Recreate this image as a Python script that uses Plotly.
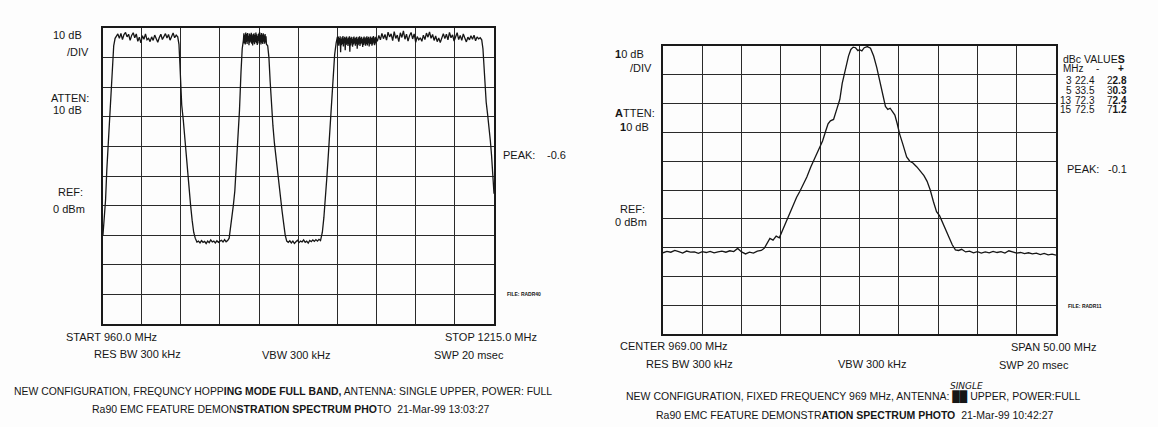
import plotly.graph_objects as go

W, H = 1158, 427

# ---------------- data ----------------
# Left panel: frequency hopping, full band (START 960.0 MHz, STOP 1215.0 MHz), level dBm
hop_freq_mhz = [
    960.3, 961.0, 962.0, 962.8, 963.8, 965.0, 966.2, 967.3, 968.2,
    969.0, 970.0, 971.0, 972.0, 973.0, 974.0, 975.0, 976.0, 977.0, 978.0, 979.0, 980.0,
    981.0, 982.0, 983.0, 984.0, 985.0, 986.0, 987.0, 988.0, 989.0, 990.0, 991.0, 992.0,
    993.0, 994.0, 995.0, 996.0, 997.0, 998.0, 999.0, 1000.0, 1001.0, 1002.0, 1003.0,
    1004.0, 1005.0, 1006.0, 1007.0, 1008.0, 1009.0,
    1009.8, 1010.4, 1011.0, 1011.6, 1012.6, 1013.6, 1014.8, 1016.0, 1017.4, 1018.4,
    1019.4, 1020.4, 1021.5,
    1022.5, 1023.5, 1024.5, 1025.5, 1026.5, 1027.5, 1028.5, 1029.5, 1030.5, 1031.5,
    1032.5, 1033.5, 1034.5, 1035.5, 1036.5, 1037.5, 1038.5, 1039.5, 1040.5, 1041.5, 1042.5,
    1043.3, 1044.2, 1045.2, 1046.2, 1047.2, 1048.2, 1049.2, 1050.2, 1051.0, 1051.8,
    1052.1, 1052.4, 1052.7, 1053.0, 1053.3, 1053.6, 1053.9, 1054.2, 1054.5, 1054.8,
    1055.1, 1055.4, 1055.7, 1056.0, 1056.3, 1056.6, 1056.9, 1057.2, 1057.5, 1057.8,
    1058.1, 1058.4, 1058.7, 1059.0, 1059.3, 1059.6, 1059.9, 1060.2, 1060.5, 1060.8,
    1061.1, 1061.4, 1061.7, 1062.0, 1062.3, 1062.6, 1062.9, 1063.2, 1063.5, 1063.8,
    1064.1, 1064.4, 1064.7, 1065.0, 1065.3, 1065.6, 1065.9, 1066.2, 1066.5, 1066.8,
    1067.6, 1068.4, 1069.2, 1070.0, 1071.0, 1072.0, 1073.2, 1074.5, 1075.8, 1077.0,
    1078.0, 1079.0, 1080.0,
    1081.0, 1082.0, 1083.0, 1084.0, 1085.0, 1086.0, 1087.0, 1088.0, 1089.0, 1090.0,
    1091.0, 1092.0, 1093.0, 1094.0, 1095.0, 1096.0, 1097.0, 1098.0, 1099.0, 1100.0,
    1101.0, 1102.0,
    1103.2, 1104.2, 1105.2, 1106.2, 1107.2, 1108.2, 1109.2, 1110.2, 1111.2, 1112.2,
    1113.0, 1113.3, 1113.6, 1113.9, 1114.2, 1114.5, 1114.8, 1115.1, 1115.4, 1115.7,
    1116.0, 1116.3, 1116.6, 1116.9, 1117.2, 1117.5, 1117.8, 1118.1, 1118.4, 1118.7,
    1119.0, 1119.3, 1119.6, 1119.9, 1120.2, 1120.5, 1120.8, 1121.1, 1121.4, 1121.7,
    1122.0, 1122.3, 1122.6, 1122.9, 1123.2, 1123.5, 1123.8, 1124.1, 1124.4, 1124.7,
    1125.0, 1125.3, 1125.6, 1125.9, 1126.2, 1126.5, 1126.8, 1127.1, 1127.4, 1127.7,
    1128.0, 1128.3, 1128.6, 1128.9, 1129.2, 1129.5, 1129.8, 1130.1, 1130.4, 1130.7,
    1131.0, 1131.3, 1131.6, 1131.9, 1132.2, 1132.5, 1132.8, 1133.1, 1133.4, 1133.7,
    1134.0, 1134.3, 1134.6, 1134.9, 1135.2, 1135.5, 1135.8, 1136.1, 1136.4, 1136.7,
    1137.0, 1137.3, 1137.6, 1137.9, 1138.2,
    1139, 1140, 1141, 1142, 1143, 1144, 1145, 1146, 1147, 1148, 1149, 1150, 1151, 1152,
    1153, 1154, 1155, 1156, 1157, 1158, 1159, 1160, 1161, 1162, 1163, 1164, 1165, 1166,
    1167, 1168, 1169, 1170, 1171, 1172, 1173, 1174, 1175, 1176, 1177, 1178, 1179, 1180,
    1181, 1182, 1183, 1184, 1185, 1186, 1187, 1188, 1189, 1190, 1191, 1192, 1193, 1194,
    1195, 1196, 1197, 1198, 1199, 1200, 1201, 1202, 1203, 1204, 1205, 1206, 1207,
    1207.8, 1208.5, 1209.2, 1209.9, 1210.8, 1211.7, 1212.6, 1213.4, 1214.2, 1215.0,
]
hop_level_dbm = [
    -70, -66, -58, -48, -38, -26, -14, -6, -3.5,
    -2.8, -2.0, -3.5, -1.8, -3.9, -2.2, -1.5, -3.0, -2.1, -4.2, -2.5, -1.6,
    -3.3, -2.0, -4.5, -3.1, -5.0, -2.6, -3.8, -2.0, -4.0, -3.5, -4.6, -3.0,
    -4.2, -2.4, -3.6, -4.8, -3.2, -2.1, -3.9, -2.6, -1.9, -3.4, -2.2,
    -4.1, -2.7, -1.7, -3.3, -2.4, -3.0,
    -5.5, -12, -22, -26, -31, -37, -46, -54, -60, -65,
    -69, -71, -72.3,
    -72.0, -72.6, -71.8, -72.4, -72.1, -72.8, -72.0, -72.5, -71.6, -72.3,
    -72.0, -72.6, -71.9, -72.4, -72.0, -71.7, -72.3, -71.5, -72.2, -71.8, -71.0,
    -68, -64, -60, -55, -46, -38, -28, -15, -7, -4,
    -1.8, -5.2, -2.3, -5.6, -1.5, -4.8, -2.0, -5.4, -1.7, -4.5,
    -2.6, -5.8, -1.9, -5.0, -2.2, -4.6, -1.6, -5.3, -2.5, -5.9,
    -2.0, -4.9, -1.8, -5.5, -2.4, -4.7, -1.5, -5.1, -2.1, -5.7,
    -2.7, -4.4, -1.9, -5.2, -1.4, -4.8, -2.3, -5.6, -1.7, -5.0,
    -2.2, -5.4, -1.8, -4.6, -2.5, -5.3, -2.0, -4.9, -2.8, -5.5,
    -6, -10, -18, -26, -33, -39, -45, -51, -57, -62,
    -66, -70, -72,
    -72.4, -71.9, -72.6, -72.0, -72.8, -72.2, -71.7, -72.5, -72.0, -72.3,
    -71.6, -72.4, -72.0, -72.7, -71.8, -72.2, -71.6, -72.1, -71.5, -72.0,
    -71.4, -71.8,
    -69, -64, -58, -50, -42, -34, -25, -16, -9, -5,
    -3.0, -5.6, -2.9, -6.0, -3.4, -5.2, -2.8, -8.2, -3.6, -5.8,
    -3.1, -5.4, -2.7, -6.2, -3.5, -5.0, -3.0, -7.5, -3.3, -5.7,
    -2.9, -5.3, -3.6, -6.1, -3.2, -5.5, -2.8, -8.0, -3.4, -5.9,
    -3.0, -5.1, -3.7, -6.3, -3.1, -5.6, -2.9, -5.2, -3.5, -6.0,
    -3.2, -5.4, -3.0, -7.0, -3.6, -5.8, -3.1, -5.3, -2.8, -6.1,
    -3.4, -5.5, -3.0, -5.0, -3.7, -6.4, -3.2, -5.7, -2.9, -5.2,
    -3.5, -6.0, -3.1, -5.4, -2.8, -5.9, -3.3, -5.1, -3.0, -6.2,
    -3.6, -5.5, -2.9, -5.3, -3.4, -6.0, -3.1, -5.6, -2.7, -5.0,
    -3.5, -5.8, -3.0, -5.2, -3.3,
    -4.5, -2.5, -4.0, -1.8, -3.6, -2.2, -4.1, -1.4, -3.0, -2.0, -4.3, -1.2, -3.5, -2.4,
    -4.6, -1.6, -3.2, -1.0, -3.8, -2.1, -4.4, -2.6, -1.5, -3.7, -2.0, -4.8, -2.9, -4.0,
    -3.3, -4.5, -2.4, -3.9, -1.7, -3.1, -1.3, -3.5, -2.2, -4.2, -2.7, -4.6, -3.4, -4.9,
    -3.0, -1.9, -3.6, -2.1, -4.0, -1.5, -3.3, -2.3, -4.4, -2.8, -1.6, -3.9, -2.5, -4.2,
    -2.0, -3.4, -4.7, -3.1, -4.0, -2.6, -3.8, -2.4, -4.3, -3.0, -3.7, -3.3, -4.0,
    -7, -14, -22, -25, -29, -33, -38, -43, -49, -56,
]

# Right panel: fixed frequency (CENTER 969.00 MHz, SPAN 50.00 MHz), level dBm
fix_freq_mhz = [
    944.0, 944.5, 945.0, 945.5, 946.0, 946.5, 947.0, 947.5, 948.0, 948.5, 949.0, 949.5,
    950.0, 950.5, 951.0, 951.5, 952.0, 952.5, 953.0, 953.5, 954.0, 954.5, 955.0, 955.5,
    956.0, 956.5, 956.9,
    957.3, 957.6, 958.0, 958.4, 958.8, 959.2, 959.6, 960.0, 960.5, 961.0, 961.4, 961.8,
    962.3, 962.8, 963.2, 963.6, 964.0, 964.3, 964.7, 965.0, 965.3, 965.7, 966.1, 966.5,
    966.8, 967.2, 967.6, 967.9, 968.2, 968.5, 968.8, 969.0, 969.3, 969.6, 970.0, 970.4,
    970.8, 971.2, 971.6, 972.0, 972.3, 972.6, 972.9, 973.2, 973.5, 973.8, 974.1, 974.5,
    975.0, 975.4, 975.8, 976.3, 976.8, 977.2, 977.6, 978.0, 978.4, 978.8, 979.2, 979.6,
    980.0, 980.4, 980.8, 981.2, 981.6, 982.0, 982.5, 983.0, 983.5, 984.0, 984.5, 985.0,
    985.5, 986.0, 986.5, 987.0, 987.5, 988.0, 988.5, 989.0, 989.5, 990.0, 990.5, 991.0,
    991.5, 992.0, 992.5, 993.0, 993.5, 994.0,
]
fix_level_dbm = [
    -71.8, -71.3, -71.6, -71.0, -71.4, -71.9, -71.2, -71.6, -71.5, -72.0, -71.4, -71.7,
    -71.3, -71.8, -71.5, -71.2, -71.6, -71.1, -71.4, -70.3, -71.5, -72.2, -71.6, -71.9,
    -71.2, -71.0, -70.2,
    -68.0, -66.8, -67.4, -66.0, -66.6, -64.0, -61.5, -58.5, -55.5, -52.5, -50.5, -48.5,
    -45.5, -42.0, -39.5, -37.0, -34.5, -33.0, -29.5, -27.0, -26.0, -25.5, -22.0, -18.5,
    -13.0, -8.0, -3.5, -1.2, -0.4, -0.6, -1.6, -1.3, -1.7, -0.6, -0.2, -0.8,
    -3.5, -7.5, -12.5, -17.5, -21.0, -22.0, -21.6, -22.8, -24.0, -27.0, -30.5, -34.0,
    -38.5, -40.0, -40.6, -42.0, -43.5, -45.0, -47.0, -50.0, -54.0, -57.5, -59.0, -61.5,
    -64.0, -66.5, -69.0, -70.8, -71.0, -70.6, -71.5, -71.2, -71.8, -71.4, -71.9, -71.5,
    -71.8, -71.3, -71.7, -71.4, -71.9, -71.1, -71.6, -71.9, -71.7, -72.1, -71.8, -72.2,
    -71.9, -72.4, -72.0, -72.5, -72.3, -72.6,
]

# dBc table (offset MHz, lower, upper)
dbc_offsets = ["3", "5", "13", "15"]
dbc_lower = ["22.4", "33.5", "72.3", "72.5"]
dbc_upper = ["22.8", "30.3", "72.4", "71.2"]

# ---------------- figure ----------------
INK = "#161616"
FONT = "Liberation Sans, Arial, Helvetica, sans-serif"


def fx(p):
    return p / W


def fy(p):
    return 1 - p / H


fig = go.Figure()
fig.add_trace(go.Scatter(x=hop_freq_mhz, y=hop_level_dbm, mode="lines",
                         line=dict(color=INK, width=1.3), xaxis="x", yaxis="y",
                         showlegend=False, hoverinfo="skip"))
fig.add_trace(go.Scatter(x=fix_freq_mhz, y=fix_level_dbm, mode="lines",
                         line=dict(color=INK, width=1.3), xaxis="x2", yaxis="y2",
                         showlegend=False, hoverinfo="skip"))

axis_common = dict(showgrid=True, gridcolor="#2a2a2a", gridwidth=1.3,
                   showticklabels=False, ticks="", zeroline=False,
                   showline=True, mirror=True, linecolor="#1a1a1a", linewidth=1.6,
                   fixedrange=True)

fig.update_layout(
    width=W, height=H, autosize=False,
    margin=dict(l=0, r=0, t=0, b=0),
    paper_bgcolor="#fdfdfd", plot_bgcolor="rgba(0,0,0,0)",
    xaxis=dict(domain=[fx(102.5), fx(494)], range=[960, 1215], tick0=960, dtick=25.5,
               anchor="y", **axis_common),
    yaxis=dict(domain=[fy(324), fy(28)], range=[-100, 0], tick0=0, dtick=10,
               anchor="x", **axis_common),
    xaxis2=dict(domain=[fx(663), fx(1056)], range=[944, 994], tick0=944, dtick=5,
                anchor="y2", **axis_common),
    yaxis2=dict(domain=[fy(334), fy(46)], range=[-100, 0], tick0=0, dtick=10,
                anchor="x2", **axis_common),
)

annotations = []


def label(text, x, y, anchor="left", size=11, family=FONT, color=INK):
    annotations.append(dict(text=text, x=fx(x), y=fy(y), xref="paper", yref="paper",
                            xanchor=anchor, yanchor="middle", showarrow=False,
                            borderpad=0, font=dict(family=family, size=size, color=color)))


# ---- left panel labels ----
label("10 dB", 52, 35)
label("/DIV", 66, 52)
label("ATTEN:", 50, 98)
label("10 dB", 52, 110)
label("REF:", 57, 192)
label("0 dBm", 52, 209)
label("PEAK:", 502, 155)
label("-0.6", 546, 155)
label("<b>FILE: RADR40</b>", 506, 294, size=5)
label("START 960.0 MHz", 65, 337)
label("STOP 1215.0 MHz", 538, 337, anchor="right")
label("RES BW 300 kHz", 93, 354)
label("VBW 300 kHz", 261, 355)
label("SWP 20 msec", 433, 355)
label("NEW CONFIGURATION, FREQUNCY HOPP<b>ING MODE FULL BAND,</b> ANTENNA: SINGLE UPPER, POWER: FULL",
      283, 391, anchor="center", size=10.4)
label("Ra90 EMC FEATURE DEMON<b>STRATION SPECTRUM PHO</b>TO  21-Mar-99 13:03:27",
      290.5, 409, anchor="center", size=10.5)

# ---- right panel labels ----
label("<b>1</b>0 dB", 614, 54)
label("/DIV", 629, 68)
label("<b>A</b>TTEN:", 614, 113)
label("<b>1</b>0 dB", 619, 127)
label("REF:", 619, 209)
label("0 dBm", 614, 222)
label("PEAK:", 1066, 169)
label("-0.1", 1107, 169)
label("<b>FILE: RADR11</b>", 1067, 306, size=5)
label("CENTER 969.00 MHz", 619, 346)
label("SPAN 50.00 MHz", 1097, 347, anchor="right")
label("RES BW 300 kHz", 645, 364)
label("VBW 300 kHz", 837, 364)
label("SWP 20 msec", 998, 365)
label("<i>SINGLE</i>", 966, 386, anchor="center", size=9, family="DejaVu Sans")
label("NEW CONFIGURATION, FIXED FREQUENCY 969 MHz, ANTENNA: <b>██</b> UPPER, POWER:FULL",
      853.5, 397, anchor="center", size=10.5)
label("Ra90 EMC FEATURE DEMONSTR<b>ATION SPECTRUM PHOTO</b>  21-Mar-99 10:42:27",
      854.5, 415, anchor="center", size=10.5)

# dBc table
label("dBc VALUE<b>S</b>", 1062, 59, size=10.5)
label("MHz", 1062, 69, size=10)
label("-", 1097, 69, anchor="center", size=10)
label("<b>+</b>", 1121, 69, anchor="center", size=10)
row_y = [80, 90, 100, 109]
for off, lo, up, yy in zip(dbc_offsets, dbc_lower, dbc_upper, row_y):
    label(off, 1073, yy, anchor="right", size=10)
    label(lo, 1096, yy, anchor="right", size=10)
    label(up[0] + "<b>" + up[1:] + "</b>", 1128, yy, anchor="right", size=10)

fig.update_layout(annotations=annotations)
fig.write_html("out.html",
               config={"displayModeBar": False},
               post_script="document.body.style.margin='0';"
                           "document.body.style.overflow='hidden';")
